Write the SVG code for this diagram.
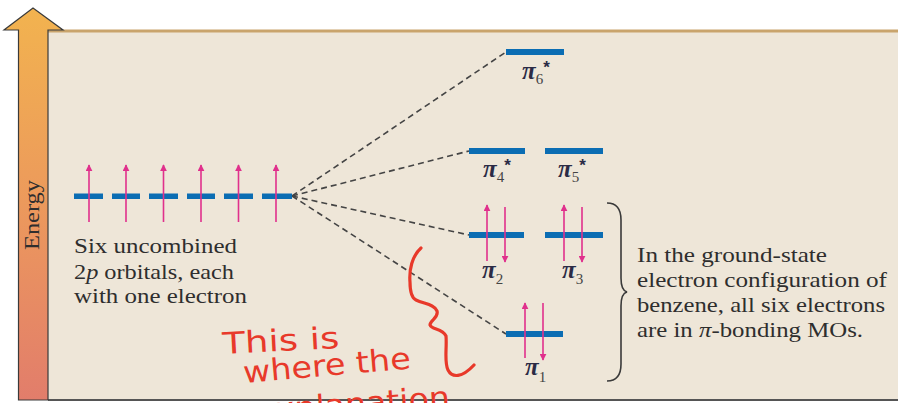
<svg xmlns="http://www.w3.org/2000/svg" width="898" height="403" viewBox="0 0 898 403">
<defs>
<linearGradient id="eg" x1="0" y1="0" x2="0" y2="1">
<stop offset="0" stop-color="#F2B34F"/>
<stop offset="0.5" stop-color="#EC995C"/>
<stop offset="1" stop-color="#E27D6B"/>
</linearGradient>
<marker id="ah" viewBox="0 0 10 10" refX="9" refY="5" markerWidth="7" markerHeight="7" markerUnits="userSpaceOnUse" orient="auto">
<path d="M0,0 L10,5 L0,10 z" fill="#E0308C"/>
</marker>
<style>
.bar{fill:#0B6DB3}
.e{stroke:#E0308C;stroke-width:1.6;marker-end:url(#ah)}
.dash{stroke:#444;stroke-width:1.6;stroke-dasharray:6 4;fill:none}
.t{font-family:"Liberation Serif","Times New Roman",serif;font-size:21px;fill:#2e2e2e}
.lbl{font-family:"Liberation Serif","Times New Roman",serif;fill:#2b2b45}
.pi{font-size:25px;font-weight:bold;font-style:italic}
.sub{font-size:15px;fill:#444}
.star{font-family:"Liberation Sans",Arial,sans-serif;font-size:17px;font-weight:bold}
.hw{font-family:"DejaVu Sans",sans-serif;font-size:30px;fill:#E8392A}
</style>
</defs>
<rect x="0" y="0" width="898" height="403" fill="#ffffff"/>
<g id="panel">
<rect x="48" y="31" width="852" height="369" fill="#EEE6D8"/>
<rect x="48" y="29.5" width="852" height="3" fill="#C9A46C"/>
<line x1="48" y1="400" x2="898" y2="400" stroke="#555" stroke-width="2"/>
</g>
<g id="energy-axis">
<path d="M18.5,400 L18.5,30 L4,30 L33,8 L63,30 L48,30 L48,400 Z" fill="url(#eg)" stroke="#3a3a3a" stroke-width="1.2"/>
<text class="t" transform="translate(39,215) rotate(-90)" text-anchor="middle" textLength="70" lengthAdjust="spacingAndGlyphs" font-size="21">Energy</text>
</g>
<g id="connectors">
<line class="dash" x1="292" y1="196" x2="506" y2="52"/>
<line class="dash" x1="292" y1="196" x2="469" y2="151"/>
<line class="dash" x1="292" y1="196" x2="469" y2="235"/>
<line class="dash" x1="292" y1="196" x2="506" y2="334"/>
</g>
<g id="atomic-2p">
<rect class="bar" x="74" y="193.5" width="29" height="5.5"/>
<rect class="bar" x="112" y="193.5" width="28" height="5.5"/>
<rect class="bar" x="149" y="193.5" width="29" height="5.5"/>
<rect class="bar" x="187" y="193.5" width="28" height="5.5"/>
<rect class="bar" x="224" y="193.5" width="29" height="5.5"/>
<rect class="bar" x="262" y="193.5" width="30" height="5.5"/>
<line class="e" x1="89" y1="222" x2="89" y2="165"/>
<line class="e" x1="126" y1="222" x2="126" y2="165"/>
<line class="e" x1="163.5" y1="222" x2="163.5" y2="165"/>
<line class="e" x1="201" y1="222" x2="201" y2="165"/>
<line class="e" x1="238.5" y1="222" x2="238.5" y2="165"/>
<line class="e" x1="276" y1="222" x2="276" y2="165"/>
<text class="t" x="74" y="253" textLength="163" lengthAdjust="spacingAndGlyphs">Six uncombined</text>
<text class="t" x="74" y="279" textLength="160" lengthAdjust="spacingAndGlyphs">2<tspan font-style="italic">p</tspan> orbitals, each</text>
<text class="t" x="74" y="303" textLength="173" lengthAdjust="spacingAndGlyphs">with one electron</text>
</g>
<g id="pi6">
<rect class="bar" x="506" y="49" width="58" height="6"/>
<text class="lbl" x="522" y="79"><tspan class="pi">π</tspan><tspan class="sub" dy="5">6</tspan><tspan class="star" dy="-11">*</tspan></text>
</g>
<g id="pi4">
<rect class="bar" x="469" y="148" width="56" height="6"/>
<text class="lbl" x="483" y="177"><tspan class="pi">π</tspan><tspan class="sub" dy="5">4</tspan><tspan class="star" dy="-11">*</tspan></text>
</g>
<g id="pi5">
<rect class="bar" x="545" y="148" width="58" height="6"/>
<text class="lbl" x="558" y="177"><tspan class="pi">π</tspan><tspan class="sub" dy="5">5</tspan><tspan class="star" dy="-11">*</tspan></text>
</g>
<g id="pi2">
<rect class="bar" x="469" y="232" width="55" height="6"/>
<line class="e" x1="487" y1="261" x2="487" y2="205"/>
<line class="e" x1="505" y1="207" x2="505" y2="262"/>
<text class="lbl" x="482" y="278"><tspan class="pi">π</tspan><tspan class="sub" dy="6">2</tspan></text>
</g>
<g id="pi3">
<rect class="bar" x="545" y="232" width="58" height="6"/>
<line class="e" x1="564" y1="261" x2="564" y2="205"/>
<line class="e" x1="582" y1="207" x2="582" y2="262"/>
<text class="lbl" x="562" y="278"><tspan class="pi">π</tspan><tspan class="sub" dy="6">3</tspan></text>
</g>
<g id="pi1">
<rect class="bar" x="506" y="331" width="57" height="6"/>
<line class="e" x1="525" y1="358" x2="525" y2="303"/>
<line class="e" x1="543" y1="303" x2="543" y2="360"/>
<text class="lbl" x="525" y="375"><tspan class="pi">π</tspan><tspan class="sub" dy="7">1</tspan></text>
</g>
<g id="brace">
<path d="M607,203 C618,203 621,210 621,220 L621,278 C621,287 623,291 627,292 C623,293 621,297 621,306 L621,364 C621,374 618,381 607,381" fill="none" stroke="#3a3a3a" stroke-width="1.6"/>
</g>
<g id="note">
<text class="t" x="637" y="262" textLength="190" lengthAdjust="spacingAndGlyphs">In the ground-state</text>
<text class="t" x="637" y="287" textLength="250" lengthAdjust="spacingAndGlyphs">electron configuration of</text>
<text class="t" x="637" y="312" textLength="248" lengthAdjust="spacingAndGlyphs">benzene, all six electrons</text>
<text class="t" x="637" y="337" textLength="226" lengthAdjust="spacingAndGlyphs">are in <tspan font-style="italic">π</tspan>-bonding MOs.</text>
</g>
<g id="handwriting">
<path d="M421,248 C412,256 409,270 410,282 C410,292 412,298 416,300 C424,304 434,304 437,311 C439,318 430,320 430,325 C432,330 442,328 446,336 C447,348 444,362 448,370 C452,378 462,378 474,365" fill="none" stroke="#E8392A" stroke-width="3.2" stroke-linecap="round" stroke-linejoin="round"/>
<text class="hw" x="223" y="354" transform="rotate(-3 223 354)" textLength="117" lengthAdjust="spacingAndGlyphs">This is</text>
<text class="hw" x="244" y="383" transform="rotate(-5 244 383)" textLength="168" lengthAdjust="spacingAndGlyphs">where the</text>
<text class="hw" x="256" y="421" transform="rotate(-4 256 421)" textLength="195" lengthAdjust="spacingAndGlyphs">explanation</text>
</g>
</svg>
